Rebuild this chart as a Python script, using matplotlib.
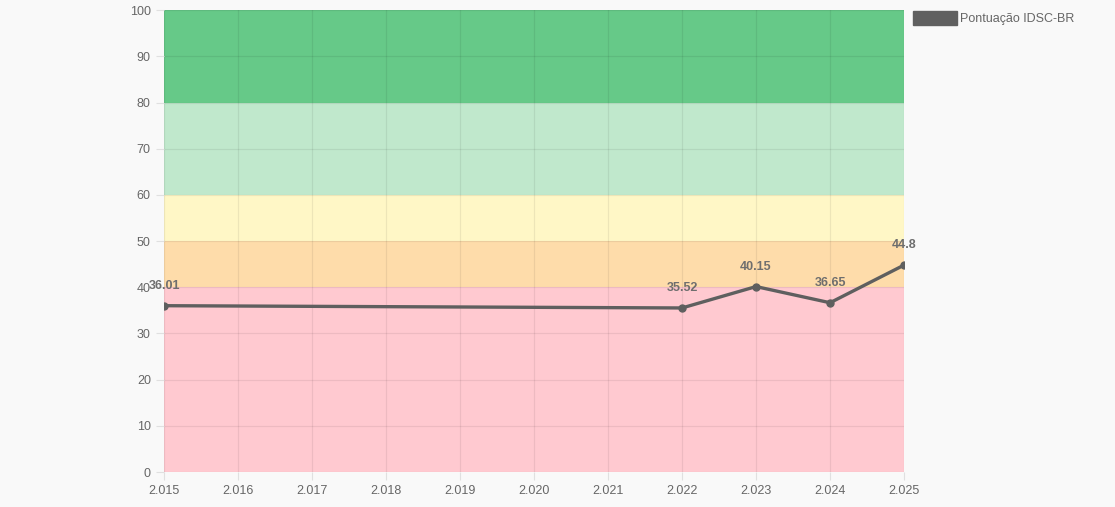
import matplotlib.pyplot as plt
from matplotlib.patches import Patch
from matplotlib.ticker import FuncFormatter, MultipleLocator

plt.rcParams['font.family'] = ['Liberation Sans', 'DejaVu Sans']

# data
anos = [2015, 2022, 2023, 2024, 2025]
pontuacao = [36.01, 35.52, 40.15, 36.65, 44.8]

# faixas de classificação (limite inferior, superior, cor)
faixas_lim = [(0, 40), (40, 50), (50, 60), (60, 80), (80, 100)]
faixas_cor = ['#ffc9d0', '#fedcaa', '#fff7c6', '#c0e8cc', '#66c988']

fig = plt.figure(figsize=(11.15, 5.07), dpi=100, facecolor='#f9f9f9')
ax = fig.add_axes([0.1471, 0.069, 0.6637, 0.911])
ax.set_facecolor('#f9f9f9')

for (lo, hi), cor in zip(faixas_lim, faixas_cor):
    ax.axhspan(lo, hi, xmin=0, xmax=1, color=cor, zorder=0, lw=0)

ax.plot(anos, pontuacao, color='#5f5f5f', lw=2.4, marker='o', ms=5, zorder=3)
for a, p in zip(anos, pontuacao):
    ax.annotate(f'{p:g}', (a, p), xytext=(0, 10), textcoords='offset points',
                ha='center', va='bottom', fontsize=9, fontweight='bold', color='#6e6e6e')

ax.set_xlim(2015, 2025)
ax.set_ylim(0, 100)
ax.xaxis.set_major_locator(MultipleLocator(1))
ax.yaxis.set_major_locator(MultipleLocator(10))
ax.xaxis.set_major_formatter(FuncFormatter(lambda v, _: f'{int(round(v)):,}'.replace(',', '.')))
ax.grid(True, color='#000000', alpha=0.07, lw=0.9, zorder=1)
ax.set_axisbelow(False)
for s in ax.spines.values():
    s.set_visible(False)
ax.tick_params(colors='#e0e0e0', labelcolor='#666666', labelsize=9, length=6, width=0.8)

ax.legend(handles=[Patch(facecolor='#606060', edgecolor='#606060')], labels=['Pontuação IDSC-BR'],
          loc='upper left', bbox_to_anchor=(1.0, 1.018), frameon=False, fontsize=9,
          handlelength=3.5, handleheight=1.35, labelcolor='#666666', borderaxespad=0.3, handletextpad=0.3)

fig.savefig('out.png', dpi=100, facecolor=fig.get_facecolor())
